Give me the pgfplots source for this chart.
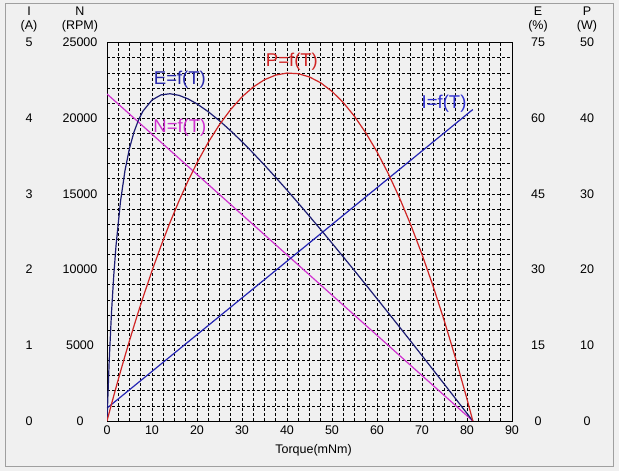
\documentclass[border=0pt]{standalone}
\usepackage{fontspec}
\setmainfont{Liberation Sans}
\usepackage{pgfplots}
\pgfplotsset{compat=1.18}

\definecolor{bg}{HTML}{F0F0F0}
\definecolor{ncol}{HTML}{D030D0}
\definecolor{icol}{HTML}{2424B4}
\definecolor{ecol}{HTML}{1C1C72}
\definecolor{pcol}{HTML}{D02424}
\definecolor{lblue}{HTML}{3030D0}

\pgfplotsset{
  base/.style={at={(107pt,50pt)}, anchor=south west, scale only axis,
    width=405pt, height=378.5pt, xmin=0, xmax=90, ymin=0,
    font=\fontsize{12.5}{14}\selectfont,
    /pgf/number format/assume math mode=true,
    major tick length=0pt, minor tick length=0pt},
  over/.style={base, hide x axis, y axis line style={draw=none},
    yticklabel style={anchor=center}},
}

\begin{document}
\begin{tikzpicture}[x=1pt,y=1pt]
\useasboundingbox (0,0) rectangle (619,471);
\fill[bg] (0,0) rectangle (619,471);
\draw[gray!75, line width=1pt] (5,4) rectangle (613,467);

% column headers
\begin{scope}[font=\fontsize{12.5}{14}\selectfont]
\node at (29,459.5) {I};   \node at (29,444.5) {(A)};
\node at (80,459.5) {N};   \node at (80,444.5) {(RPM)};
\node at (538,459.5) {E};  \node at (538,444.5) {(\%)};
\node at (587,459.5) {P};  \node at (587,444.5) {(W)};
\end{scope}

% speed axis, carries the grid
\begin{axis}[base, ymax=25000,
  xtick={0,10,...,90}, minor xtick={0,2.5,...,90},
  ytick={0,5000,...,25000}, minor ytick={0,1000,...,25000},
  grid=both,
  grid style={black, line width=0.55pt, dash pattern=on 3pt off 2pt},
  axis line style={black, line width=0.8pt},
  scaled y ticks=false,
  yticklabel style={anchor=center, xshift=-27pt, /pgf/number format/1000 sep={}},
  xticklabel style={yshift=-1.5pt},
  xlabel={Torque(mNm)},
  xlabel style={at={(axis description cs:0.5,0)}, anchor=center, yshift=-29pt, xshift=4pt}]
\addplot[ncol, line width=1.2pt] coordinates {(0,21600) (81.3,0)};
\node[ecol!40!lblue, font=\fontsize{18.5}{20}\selectfont] at (axis cs:16.2,22520) {E=f(T)};
\node[ncol, font=\fontsize{18.5}{20}\selectfont] at (axis cs:16.2,19350) {N=f(T)};
\node[pcol, font=\fontsize{18.5}{20}\selectfont] at (axis cs:41.1,23710) {P=f(T)};
\node[lblue, font=\fontsize{18.5}{20}\selectfont] at (axis cs:74.9,20940) {I=f(T)};
\end{axis}

% current
\begin{axis}[over, ymax=5, ytick={0,1,...,5}, axis y line*=left,
  yticklabel style={xshift=-78pt}]
\addplot[icol, line width=1.2pt] coordinates {(0,0.17) (81.3,4.115)};
\end{axis}

% efficiency
\begin{axis}[over, ymax=75, ytick={0,15,...,75}, axis y line*=right,
  yticklabel style={xshift=26pt}]
\addplot[ecol, line width=1.2pt] coordinates {
(0,0) (0.5,12.16) (1,21.48) (1.5,28.82) (2,34.71) (3,43.51) (4,49.64)
(5,54.04) (6,57.27) (7,59.65) (8,61.41) (10,63.61) (12,64.62) (14,64.85)
(16,64.53) (18,63.83) (20,62.84) (22.5,61.29) (25,59.49) (27.5,57.49)
(30,55.34) (32.5,53.07) (35,50.70) (37.5,48.26) (40,45.75) (42.5,43.18)
(45,40.57) (47.5,37.92) (50,35.24) (52.5,32.52) (55,29.79) (57.5,27.02)
(60,24.24) (62.5,21.45) (65,18.63) (67.5,15.80) (70,12.96) (72.5,10.11)
(75,7.25) (77.5,4.38) (80,1.50) (81.3,0)};
\end{axis}

% output power
\begin{axis}[over, ymax=50, ytick={0,10,...,50}, axis y line*=right,
  yticklabel style={xshift=75pt}]
\addplot[pcol, line width=1.2pt] coordinates {
(0,0) (0.5,1.124) (1,2.234) (1.5,3.330) (2,4.413) (3,6.535) (4,8.603)
(5,10.614) (6,12.570) (7,14.470) (8,16.315) (10,19.837) (12,23.137)
(14,26.214) (16,29.069) (18,31.701) (20,34.110) (22.5,36.809) (25,39.160)
(27.5,41.163) (30,42.819) (32.5,44.126) (35,45.085) (37.5,45.698)
(40,45.963) (42.5,45.880) (45,45.447) (47.5,44.669) (50,43.543)
(52.5,42.068) (55,40.245) (57.5,38.073) (60,35.558) (62.5,32.692)
(65,29.478) (67.5,25.917) (70,22.009) (72.5,17.752) (75,13.146)
(77.5,8.193) (80,2.893) (81.3,0)};
\end{axis}
\end{tikzpicture}
\end{document}
